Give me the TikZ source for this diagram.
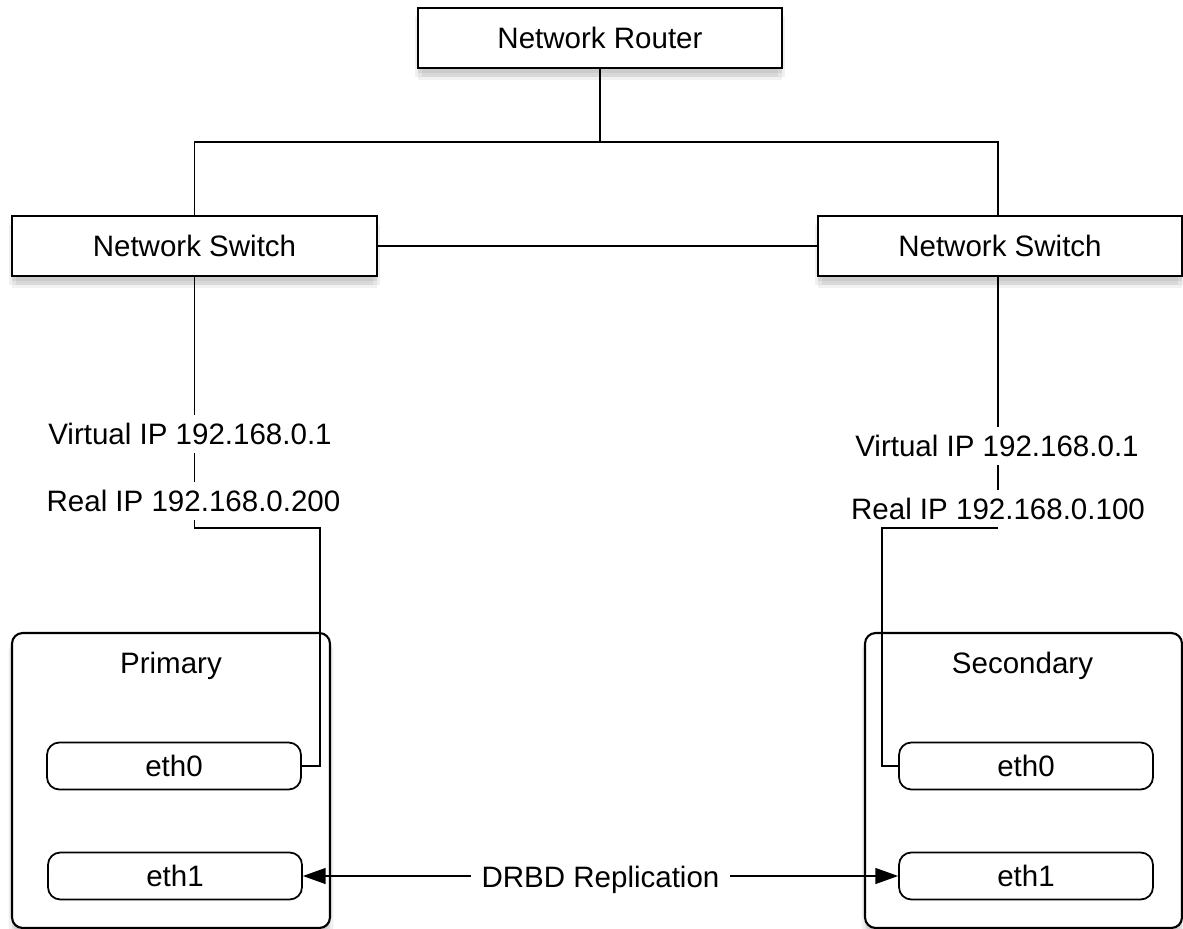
\documentclass[tikz,border=0pt]{standalone}
\usepackage{fontspec}
\setmainfont{Liberation Sans}
\usepackage{tikz}
\usetikzlibrary{shapes,arrows.meta,shadows}
\tikzstyle{every node}=[font=\fontsize{16.8}{20}\selectfont]
\tikzstyle{soft shadow}=[drop shadow={shadow xshift=-2pt,shadow yshift=-5pt,opacity=.12},
  drop shadow={shadow xshift=2pt,shadow yshift=-5pt,opacity=.12},
  drop shadow={shadow xshift=0pt,shadow yshift=-7pt,opacity=.1},
  drop shadow={shadow xshift=0pt,shadow yshift=-3pt,opacity=.15}]
\tikzstyle{device}=[draw,line width=1.2pt,fill=white,minimum height=1.2cm,soft shadow]
\tikzstyle{host}=[draw,line width=1.2pt,fill=white,rounded corners=6pt,minimum width=6.36cm,minimum height=5.9cm,soft shadow]
\tikzstyle{iface}=[draw,line width=1pt,fill=white,rounded corners=7pt,minimum width=5.08cm,minimum height=0.94cm]
\tikzstyle{iplabel}=[inner sep=4pt]
\tikzstyle{tip}=[{Triangle[length=13pt,width=9pt]}-{Triangle[length=13pt,width=9pt]}]

\begin{document}
\begin{tikzpicture}[x=0.02cm,y=-0.02cm,line width=1.1pt]
\useasboundingbox (0,0) rectangle (1183,929);
\node[device,minimum width=7.28cm] (router) at (600,38) {Network Router};
\node[device,minimum width=7.3cm] (swL) at (194.5,246) {Network Switch};
\node[device,minimum width=7.28cm] (swR) at (1000,246) {Network Switch};
\node[host] (primary) at (171,780.5) {};
\node[host,minimum width=6.34cm] (secondary) at (1023.5,780.5) {};
\node[anchor=base] (priT) at (171,673) {Primary};
\node[anchor=base] (secT) at (1022.5,673) {Secondary};
\node[iface] (eth0L) at (174,766) {eth0};
\node[iface] (eth1L) at (175,876) {eth1};
\node[iface] (eth0R) at (1026,766) {eth0};
\node[iface] (eth1R) at (1026,876) {eth1};
\node[iplabel] (vipL) at (190,434) {Virtual IP 192.168.0.1};
\node[iplabel] (ripL) at (193.5,501) {Real IP 192.168.0.200};
\node[iplabel] (vipR) at (997,446) {Virtual IP 192.168.0.1};
\node[iplabel] (ripR) at (998,508.5) {Real IP 192.168.0.100};
\coordinate (bus) at (600,142);
\coordinate (bendL) at (320,528);
\coordinate (tapR) at (998,528);
\coordinate (bendR) at (882,528);
\draw (router.south) -- (bus);
\draw (swL.north) |- (bus) -| (tapR |- swR.north);
\draw (swL.east) -- (swR.west);
\draw (swL.south) -- (swL.south |- vipL.north);
\draw (swL.south |- vipL.south) -- (swL.south |- ripL.north);
\draw (swL.south |- ripL.south) |- (bendL) |- (eth0L.east);
\draw (tapR |- swR.south) -- (tapR |- vipR.north);
\draw (tapR |- vipR.south) -- (tapR |- ripR.north);
\draw (tapR) -- (bendR) |- (eth0R.west);
\draw[tip] (eth1L.east) -- (eth1R.west)
  node[midway,fill=white,inner xsep=6pt,inner ysep=1pt,yshift=-2pt] (drbd) {DRBD Replication};
\end{tikzpicture}
\end{document}
